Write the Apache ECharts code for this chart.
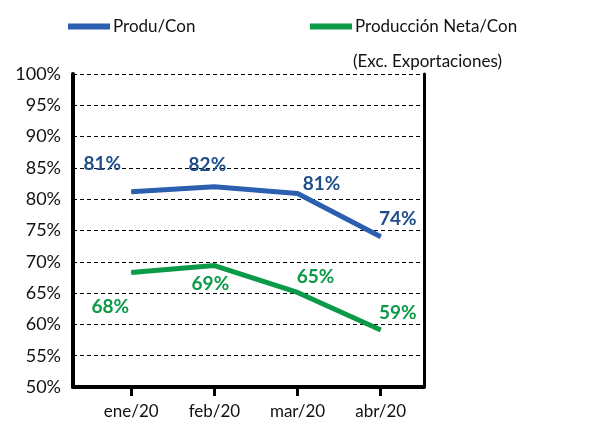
<!DOCTYPE html>
<html>
<head>
<meta charset="utf-8">
<script src="https://cdn.jsdelivr.net/npm/echarts@6/dist/echarts.min.js"></script>
<style>html,body{margin:0;padding:0;background:#fff}#c{width:606px;height:428px}</style>
</head>
<body>
<div id="c"></div>
<script>
var categories = ['ene/20', 'feb/20', 'mar/20', 'abr/20'];
var produCon = [81.2, 82.0, 80.9, 74.0];
var produNetaCon = [68.3, 69.4, 65.1, 59.1];
var yTicks = [50, 55, 60, 65, 70, 75, 80, 85, 90, 95, 100];
var seriesNames = ['Produ/Con', 'Producción Neta/Con'];
var noteText = '(Exc. Exportaciones)';

// label offsets (layout only)
var blueLabelOffsets = [[-29, -28], [-7, -22], [24, -10], [17, -18]];
var greenLabelOffsets = [[-21, 34], [-4, 18], [18, -16], [17, -17]];

var FONT = 'Lato';
var BLUE = '#2c5faf', BLUE_LBL = '#1f4e8a';
var GREEN = '#0b9b48', GREEN_LBL = '#0b9b48';

function makeData(vals, offsets, color) {
  return vals.map(function (v, i) {
    return {
      value: [i, v],
      label: { offset: offsets[i], color: color }
    };
  });
}

var chart = echarts.init(document.getElementById('c'), null, { renderer: 'canvas' });
var option = {
  animation: false,
  backgroundColor: '#fff',
  textStyle: { fontFamily: FONT },
  grid: { left: 73, right: 182, top: 74, bottom: 41, containLabel: false },
  legend: [
    {
      data: [seriesNames[0]], left: 63, top: 13, icon: 'rect', itemWidth: 42, itemHeight: 6,
      itemGap: 6, textStyle: { fontFamily: FONT, fontSize: 17, color: '#111', padding: [0, 0, 0, -2] }
    },
    {
      data: [seriesNames[1]], left: 305, top: 13, icon: 'rect', itemWidth: 42, itemHeight: 6,
      textStyle: { fontFamily: FONT, fontSize: 17, color: '#111', padding: [0, 0, 0, -2] }
    }
  ],
  graphic: [{
    type: 'text', left: 353, top: 53,
    style: { text: noteText, font: '17px ' + FONT, fill: '#111' }
  }],
  xAxis: {
    type: 'value', min: -0.7, max: 3.52,
    axisLine: { show: true, onZero: false, lineStyle: { color: '#000', width: 4 } },
    axisTick: { show: true, customValues: [0, 1, 2, 3], length: 9, lineStyle: { color: '#000', width: 3 } },
    axisLabel: {
      customValues: [0, 1, 2, 3], margin: 16, fontSize: 17, color: '#111', fontFamily: FONT,
      formatter: function (v) { return categories[Math.round(v)]; }
    },
    splitLine: { show: false }
  },
  yAxis: [{
    type: 'value', min: yTicks[0], max: yTicks[yTicks.length - 1], interval: 5,
    axisLine: { show: true, onZero: false, lineStyle: { color: '#000', width: 4 } },
    axisTick: { show: false },
    axisLabel: { margin: 12, fontSize: 18, color: '#111', fontFamily: FONT, formatter: '{value}%' },
    splitLine: { show: true, lineStyle: { color: '#000', width: 1, type: [4, 3] } }
  }, {
    type: 'value', position: 'right', min: yTicks[0], max: yTicks[yTicks.length - 1], interval: 5,
    axisLine: { show: true, onZero: false, lineStyle: { color: '#000', width: 3 } },
    axisTick: { show: false }, axisLabel: { show: false }, splitLine: { show: false }
  }],
  series: [
    {
      name: seriesNames[0], type: 'line', data: makeData(produCon, blueLabelOffsets, BLUE_LBL),
      symbol: 'circle', symbolSize: 1, color: BLUE,
      lineStyle: { color: BLUE, width: 5 }, itemStyle: { color: BLUE },
      label: {
        show: true, position: 'inside', fontSize: 19, fontWeight: 'bold', fontFamily: FONT,
        formatter: function (p) { return p.value[1].toFixed(0) + '%'; }
      }
    },
    {
      name: seriesNames[1], type: 'line', data: makeData(produNetaCon, greenLabelOffsets, GREEN_LBL),
      symbol: 'circle', symbolSize: 1, color: GREEN,
      lineStyle: { color: GREEN, width: 5 }, itemStyle: { color: GREEN },
      label: {
        show: true, position: 'inside', fontSize: 19, fontWeight: 'bold', fontFamily: FONT,
        formatter: function (p) { return p.value[1].toFixed(0) + '%'; }
      }
    }
  ]
};
chart.setOption(option);
</script>
</body>
</html>
